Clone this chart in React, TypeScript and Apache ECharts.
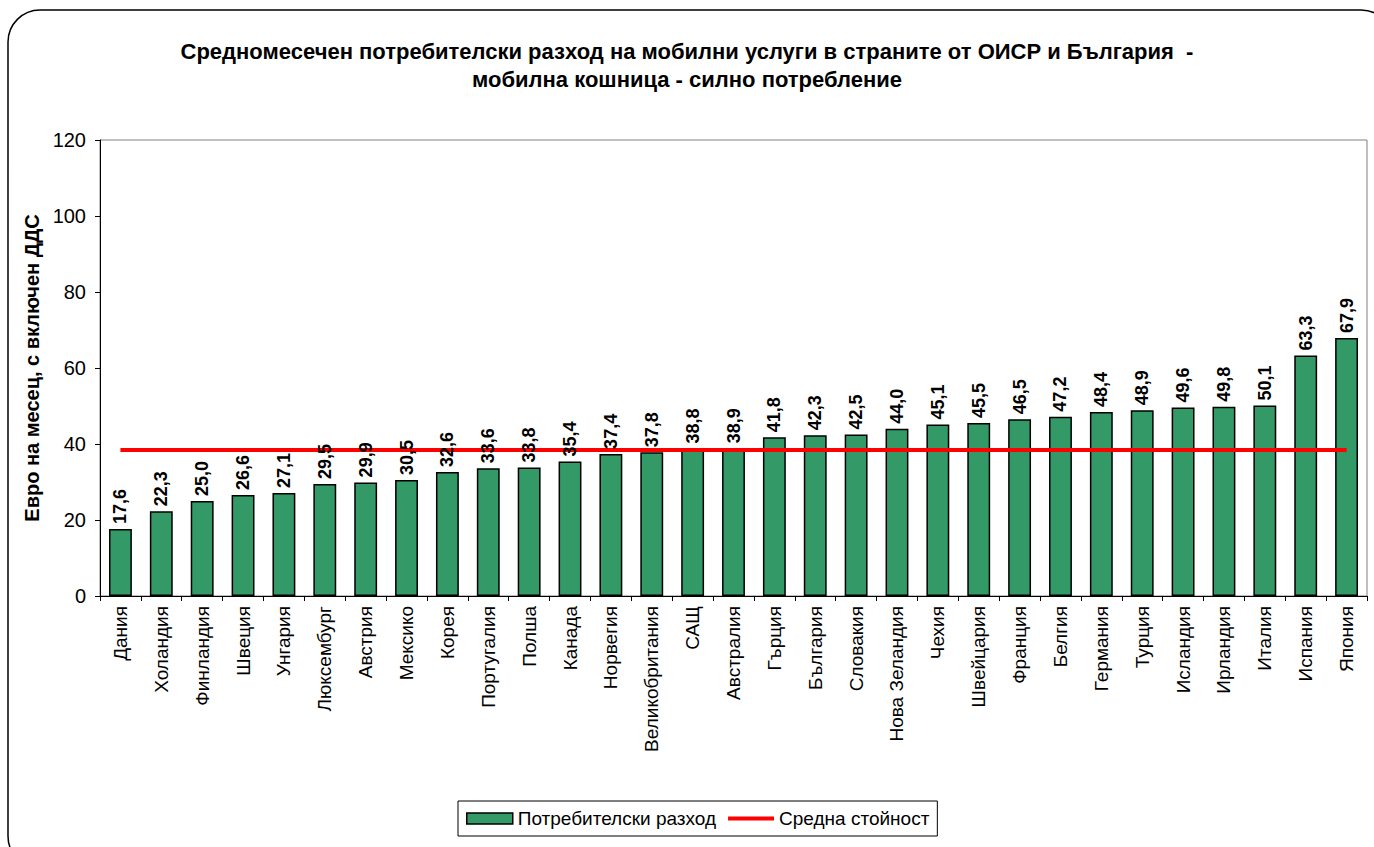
import React, { useEffect, useRef } from "react";
import * as echarts from "echarts";

const categories = [
  "Дания", "Холандия", "Финландия", "Швеция", "Унгария", "Люксембург", "Австрия", "Мексико",
  "Корея", "Португалия", "Полша", "Канада", "Норвегия", "Великобритания", "САЩ", "Австралия",
  "Гърция", "България", "Словакия", "Нова Зеландия", "Чехия", "Швейцария", "Франция", "Белгия",
  "Германия", "Турция", "Исландия", "Ирландия", "Италия", "Испания", "Япония",
];
const spending = [
  17.6, 22.3, 25.0, 26.6, 27.1, 29.5, 29.9, 30.5, 32.6, 33.6, 33.8, 35.4, 37.4, 37.8, 38.8, 38.9,
  41.8, 42.3, 42.5, 44.0, 45.1, 45.5, 46.5, 47.2, 48.4, 48.9, 49.6, 49.8, 50.1, 63.3, 67.9,
];
const averageValue = 38.4;
const averageLine = categories.map(() => averageValue);
const yTicks = { min: 0, max: 120, interval: 20 };
const titleText = "Средномесечен потребителски разход на мобилни услуги в страните от ОИСР и България  -\nмобилна кошница - силно потребление";
const yAxisName = "Евро на месец, с включен ДДС";
const seriesNames = ["Потребителски разход", "Средна стойност"];

const FONT = "Arial, 'Liberation Sans', sans-serif";

export default function App() {
  const ref = useRef<HTMLDivElement>(null);
  useEffect(() => {
    document.body.style.margin = "0";
    const chart = echarts.init(ref.current!, null, { renderer: "svg" });
    chart.setOption({
      animation: false,
      backgroundColor: "#ffffff",
      textStyle: { fontFamily: FONT },
      title: {
        text: titleText,
        left: "center",
        top: 32,
        textStyle: { fontFamily: FONT, fontSize: 22, fontWeight: "bold", color: "#000", lineHeight: 28 },
      },
      graphic: [
        {
          type: "rect",
          shape: { x: 8, y: 10, width: 1385, height: 858, r: 32 },
          style: { fill: "none", stroke: "#000", lineWidth: 1.5 },
          silent: true,
        },
      ],
      legend: {
        left: 458,
        top: 801,
        orient: "horizontal",
        borderColor: "#000",
        borderWidth: 1,
        padding: [8, 8, 8, 8],
        itemGap: 10,
        itemWidth: 46,
        itemHeight: 11,
        textStyle: { fontFamily: FONT, fontSize: 19, color: "#000" },
        data: [
          { name: seriesNames[0], icon: "rect", itemStyle: { color: "#339966", borderColor: "#000", borderWidth: 1.5 } },
          { name: seriesNames[1], itemStyle: { opacity: 0 }, lineStyle: { color: "#ff0000", width: 4 } },
        ],
      },
      grid: {
        left: 100,
        right: 7,
        top: 140,
        bottom: 251,
        show: true,
        borderColor: "#808080",
        borderWidth: 1,
        backgroundColor: "transparent",
      },
      xAxis: {
        type: "category",
        data: categories,
        boundaryGap: true,
        axisLine: { lineStyle: { color: "#000", width: 1 } },
        axisTick: { show: true, length: 5, alignWithLabel: false, lineStyle: { color: "#000" } },
        axisLabel: { rotate: 90, fontFamily: FONT, fontSize: 19, color: "#000", margin: 10, interval: 0 },
        splitLine: { show: false },
      },
      yAxis: {
        type: "value",
        min: yTicks.min,
        max: yTicks.max,
        interval: yTicks.interval,
        name: yAxisName,
        nameLocation: "middle",
        nameRotate: 90,
        nameGap: 53,
        nameTextStyle: { fontFamily: FONT, fontSize: 20, fontWeight: "bold", color: "#000" },
        axisLine: { show: true, lineStyle: { color: "#000", width: 1 } },
        axisTick: { show: true, length: 5, lineStyle: { color: "#000" } },
        axisLabel: { fontFamily: FONT, fontSize: 20, color: "#000", margin: 14 },
        splitLine: { show: false },
      },
      series: [
        {
          name: seriesNames[0],
          type: "bar",
          data: spending,
          barWidth: "56%",
          itemStyle: { color: "#339966", borderColor: "#000", borderWidth: 1.5 },
          z: 1,
        },
        {
          name: seriesNames[1],
          type: "line",
          data: averageLine,
          symbol: "none",
          showSymbol: false,
          lineStyle: { color: "#ff0000", width: 4 },
          itemStyle: { color: "#ff0000" },
          z: 2,
        },
        {
          name: "labels",
          type: "bar",
          data: spending,
          barWidth: "56%",
          barGap: "-100%",
          itemStyle: { color: "rgba(0,0,0,0)", borderWidth: 0 },
          silent: true,
          z: 3,
          label: {
            show: true,
            position: "top",
            rotate: 90,
            align: "left",
            verticalAlign: "middle",
            distance: 5,
            fontFamily: FONT,
            fontSize: 18,
            fontWeight: "bold",
            color: "#000",
            formatter: (p: any) => Number(p.value).toFixed(1).replace(".", ","),
          },
        },
      ],
    });
    return () => chart.dispose();
  }, []);
  return <div ref={ref} style={{ width: 1374, height: 847 }} />;
}
